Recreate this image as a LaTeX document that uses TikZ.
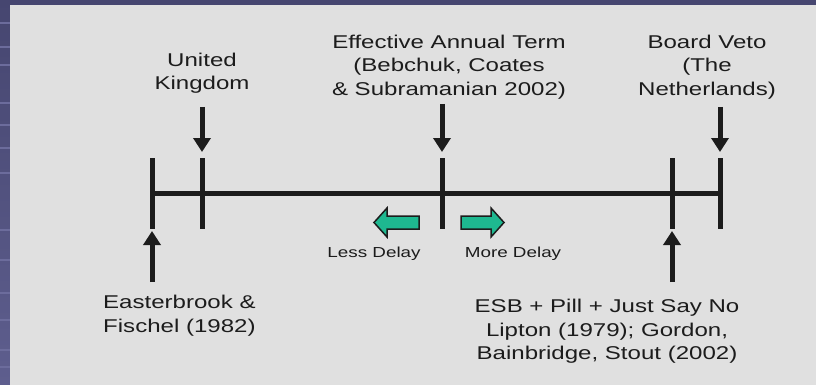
\documentclass[tikz,border=0pt]{standalone}
\usepackage{fontspec}
\setmainfont{Liberation Sans}[FakeStretch=1.3]
\usetikzlibrary{arrows.meta}

\definecolor{slideblue}{RGB}{70,70,112}
\definecolor{slidelow}{RGB}{94,94,142}
\definecolor{slidestripe}{RGB}{108,108,156}
\definecolor{panelgray}{RGB}{224,224,224}
\definecolor{delaygreen}{RGB}{30,184,144}
\definecolor{inkblack}{RGB}{28,28,28}

\begin{document}
\begin{tikzpicture}[x=1pt, y=-1pt,
  termtext/.style={inner sep=0pt, anchor=north, align=center, text=inkblack,
    font=\fontsize{18.5}{23.5}\selectfont},
  delaytext/.style={inner sep=0pt, anchor=north, text=inkblack,
    font=\fontsize{14.5}{17}\selectfont},
  tickline/.style={line width=5pt, inkblack},
  pointer/.style={line width=5pt, inkblack, -{Triangle[length=14pt, width=17pt]}},
  blockarrow/.style={fill=delaygreen, draw=inkblack, line width=1.5pt, line join=miter}]
  \useasboundingbox (0,0) rectangle (816,385);
  % slide background
  \fill[slideblue] (0,0) rectangle (816,385);
  \shade[top color=slideblue, bottom color=slidelow] (0,0) rectangle (10,385);
  \foreach \y in {23,47,65,103,125,148,173,230,260,293,320,350,367}
    \draw[slidestripe, line width=1.2pt] (0,\y) -- (10,\y);
  \fill[panelgray] (10,5) rectangle (816,385);

  % time line and its ticks
  \foreach \name/\x in {ef/152, uk/202, eat/442, esb/672, bv/720} {
    \coordinate (\name-top) at (\x,158);
    \coordinate (\name-bot) at (\x,229);
    \draw[tickline] (\name-top) -- (\name-bot);
  }
  \draw[tickline] (ef-top |- 0,193) -- (bv-top |- 0,193);

  % labels above
  \node[termtext] (uk) at (202,52.5) {United\\Kingdom};
  \node[termtext] (eat) at (449,34.5) {Effective Annual Term\\(Bebchuk, Coates\\\& Subramanian 2002)};
  \node[termtext] (bv) at (707,34.5) {Board Veto\\(The\\Netherlands)};
  \coordinate (uk-from) at (202,107);
  \coordinate (eat-from) at (442,104);
  \coordinate (bv-from) at (720,107);
  \draw[pointer, shorten >=6pt] (uk-from) -- (uk-top);
  \draw[pointer, shorten >=6pt] (eat-from) -- (eat-top);
  \draw[pointer, shorten >=6pt] (bv-from) -- (bv-top);

  % labels below
  \node[termtext, anchor=north west, align=left] (ef) at (103,295) {Easterbrook \&\\Fischel (1982)};
  \node[termtext] (esb) at (607,299) {ESB + Pill + Just Say No\\Lipton (1979); Gordon,\\Bainbridge, Stout (2002)};
  \coordinate (ef-from) at (152,282);
  \coordinate (esb-from) at (672,282);
  \draw[pointer, shorten >=2pt] (ef-from) -- (ef-bot);
  \draw[pointer, shorten >=2pt] (esb-from) -- (esb-bot);

  % delay arrows
  \draw[blockarrow] (419,216) -- (387,216) -- (387,208) -- (374,222.5)
    -- (387,237) -- (387,229) -- (419,229) -- cycle;
  \draw[blockarrow] (461,216) -- (491,216) -- (491,208) -- (504,222.5)
    -- (491,237) -- (491,229) -- (461,229) -- cycle;
  \node[delaytext] (less) at (374,246.5) {Less Delay};
  \node[delaytext] (more) at (513,246.5) {More Delay};
\end{tikzpicture}
\end{document}
